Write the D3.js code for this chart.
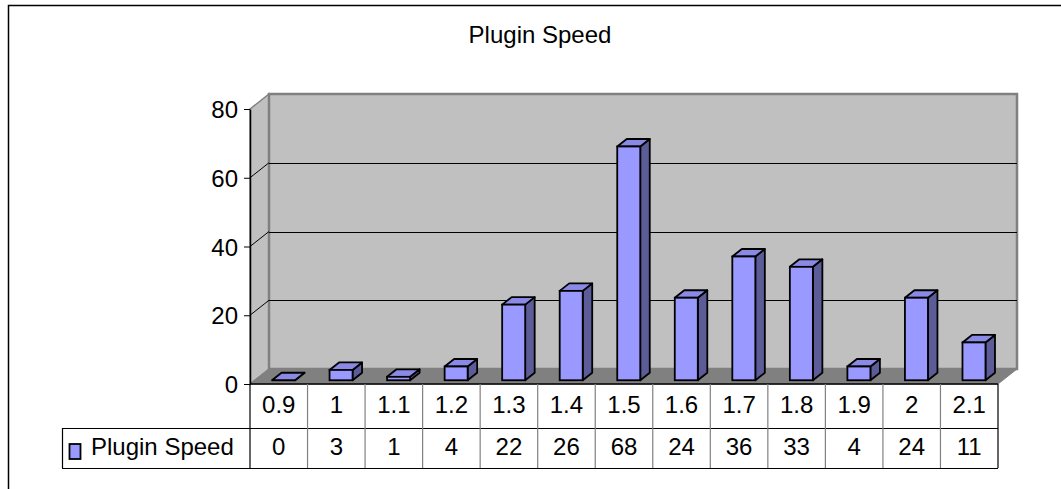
<!DOCTYPE html>
<html><head><meta charset="utf-8">
<script src="https://cdn.jsdelivr.net/npm/d3@7/dist/d3.min.js"></script>
<style>
html,body{margin:0;padding:0;background:#fff;}
svg{display:block;font-family:"Liberation Sans",Arial,sans-serif;}
</style></head>
<body>
<svg id="chart" width="1061" height="489"></svg>
<script>
const title = "Plugin Speed";
const seriesName = "Plugin Speed";
const categories = ["0.9","1","1.1","1.2","1.3","1.4","1.5","1.6","1.7","1.8","1.9","2","2.1"];
const values = [0,3,1,4,22,26,68,24,36,33,4,24,11];
const yTicks = [0,20,40,60,80];

(function(){
const svg = d3.select("#chart");
const pLeft = 250, pRight = 998, pTop = 109, pBottom = 384;
const DX = 19, DY = 15;
const FS = 24;
const y = d3.scaleLinear().domain([0,80]).range([pBottom, pTop]);
const x = d3.scaleBand().domain(categories).range([pLeft, pRight]).padding(0);

// outer border
svg.append("rect").attr("x",8.5).attr("y",5.5).attr("width",1100).attr("height",600)
  .attr("fill","none").attr("stroke","#000").attr("stroke-width",1.5);

// title
svg.append("text").attr("x",540).attr("y",37).attr("text-anchor","middle")
  .attr("dominant-baseline","middle").attr("font-size",FS).text(title);

const pts = a => a.map(p=>p.join(",")).join(" ");
// side wall
svg.append("polygon").attr("points",pts([[pLeft,y(80)],[pLeft+DX,y(80)-DY],[pLeft+DX,pBottom-DY],[pLeft,pBottom]]))
  .attr("fill","#c0c0c0").attr("stroke","#808080").attr("stroke-width",1.5);
// back wall
svg.append("rect").attr("x",pLeft+DX).attr("y",y(80)-DY).attr("width",pRight-pLeft).attr("height",pBottom-y(80))
  .attr("fill","#c0c0c0").attr("stroke","#808080").attr("stroke-width",2.5);
// floor
svg.append("polygon").attr("points",pts([[pLeft,pBottom],[pRight,pBottom],[pRight+DX,pBottom-DY],[pLeft+DX,pBottom-DY]]))
  .attr("fill","#808080").attr("stroke","#808080").attr("stroke-width",1);

// gridlines
yTicks.filter(t=>t>0 && t<80).forEach(t=>{
  svg.append("line").attr("x1",pLeft+DX).attr("x2",pRight+DX).attr("y1",Math.round(y(t)-DY)+0.5).attr("y2",Math.round(y(t)-DY)+0.5)
    .attr("stroke","#000").attr("stroke-width",1);
  svg.append("line").attr("x1",pLeft).attr("y1",y(t)).attr("x2",pLeft+DX).attr("y2",y(t)-DY)
    .attr("stroke","#000").attr("stroke-width",1);
});

// bars
const bw = x.bandwidth();
const barW = bw*0.4;
const z0 = 0.25, z1 = 0.75;
const g = svg.append("g");
categories.forEach((c,i)=>{
  const v = values[i];
  const x0 = x(c) + (bw-barW)/2 + DX*z0;
  const x1 = x0 + barW;
  const yb = pBottom - DY*z0;
  const yt = y(v) - DY*z0;
  const ox = DX*(z1-z0), oy = DY*(z1-z0);
  g.append("polygon").attr("points",pts([[x1,yt],[x1+ox,yt-oy],[x1+ox,yb-oy],[x1,yb]]))
    .attr("fill","#5c5c99").attr("stroke","#000").attr("stroke-width",1.8).attr("stroke-linejoin","round");
  g.append("polygon").attr("points",pts([[x0,yt],[x0+ox,yt-oy],[x1+ox,yt-oy],[x1,yt]]))
    .attr("fill","#8a8ae6").attr("stroke","#000").attr("stroke-width",1.8).attr("stroke-linejoin","round");
  if (v>0) g.append("rect").attr("x",x0).attr("y",yt).attr("width",barW).attr("height",yb-yt)
    .attr("fill","#9999ff").attr("stroke","#000").attr("stroke-width",1.8);
});

// y axis
const ya = svg.append("g").attr("transform",`translate(${pLeft},0)`)
  .call(d3.axisLeft(y).tickValues(yTicks).tickSize(6).tickPadding(6).tickSizeOuter(0));
ya.attr("font-size",FS).attr("font-family","'Liberation Sans',Arial,sans-serif");
ya.select(".domain").attr("stroke","#000").attr("stroke-width",1.5);
ya.selectAll(".tick line").attr("stroke","#000");
ya.selectAll(".tick text").attr("fill","#000").attr("dy","0.36em");

// data table
const r0 = pBottom, r1 = 428, r2 = 468, legL = 62;
const tg = svg.append("g").attr("font-size",FS);
tg.append("line").attr("x1",pLeft).attr("x2",pRight).attr("y1",r0).attr("y2",r0).attr("stroke","#000").attr("stroke-width",1.5);
tg.append("line").attr("x1",legL).attr("x2",pRight).attr("y1",r1+0.5).attr("y2",r1+0.5).attr("stroke","#000").attr("stroke-width",1.2);
tg.append("line").attr("x1",legL).attr("x2",pRight).attr("y1",r2+0.5).attr("y2",r2+0.5).attr("stroke","#000").attr("stroke-width",1.2);
tg.append("line").attr("x1",legL+0.5).attr("x2",legL+0.5).attr("y1",r1).attr("y2",r2).attr("stroke","#000").attr("stroke-width",1.2);
categories.forEach((c,i)=>{
  const xl = x(c);
  tg.append("line").attr("x1",xl).attr("x2",xl).attr("y1",r0).attr("y2",r2)
    .attr("stroke", i===0 ? "#000" : "#808080").attr("stroke-width",1.2);
  tg.append("text").attr("x",xl+bw/2).attr("y",(r0+r1)/2+1).attr("text-anchor","middle")
    .attr("dominant-baseline","middle").text(c);
  tg.append("text").attr("x",xl+bw/2).attr("y",(r1+r2)/2+1).attr("text-anchor","middle")
    .attr("dominant-baseline","middle").text(values[i]);
});
tg.append("line").attr("x1",pRight).attr("x2",pRight).attr("y1",r0).attr("y2",r2).attr("stroke","#000").attr("stroke-width",1.2);

// legend key
tg.append("rect").attr("x",69.5).attr("y",444).attr("width",11).attr("height",15)
  .attr("fill","#9999ff").attr("stroke","#000").attr("stroke-width",1.8);
tg.append("text").attr("x",91).attr("y",(r1+r2)/2+1).attr("dominant-baseline","middle").text(seriesName);
})();
</script>
</body></html>
